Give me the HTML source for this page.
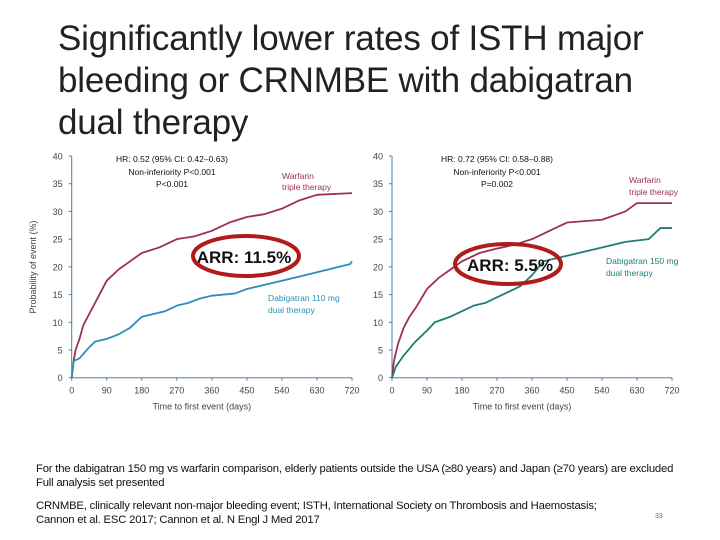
<!DOCTYPE html>
<html><head><meta charset="utf-8"><style>
body{margin:0;width:720px;height:540px;background:#fff;overflow:hidden;font-family:"Liberation Sans",sans-serif;position:relative}
.title{position:absolute;left:58px;top:18px;font-size:35px;line-height:42px;color:#222;letter-spacing:-0.2px}
.note{position:absolute;left:36px;font-size:11.3px;color:#111;line-height:14px;letter-spacing:-0.2px;white-space:nowrap}
</style></head><body>
<div class="title">Significantly lower rates of ISTH major<br>bleeding or CRNMBE with dabigatran<br>dual therapy</div>
<svg id="c" width="720" height="540" style="position:absolute;left:0;top:0"></svg>
<div class="note" style="top:462px">For the dabigatran 150 mg vs warfarin comparison, elderly patients outside the USA (≥80 years) and Japan (≥70 years) are excluded<br>Full analysis set presented</div>
<div class="note" style="top:499px">CRNMBE, clinically relevant non-major bleeding event; ISTH, International Society on Thrombosis and Haemostasis;<br>Cannon et al. ESC 2017; Cannon et al. N Engl J Med 2017</div>
<div class="note" style="top:510px;left:655px;font-size:7px;color:#666">33</div>
<script>
const xTicks=[0,90,180,270,360,450,540,630,720];
const yTicks=[0,5,10,15,20,25,30,35,40];
const leftWarfDays=[0,5,10,20,30,45,60,75,90,120,150,180,225,270,315,360,405,450,495,540,585,630,720];
const leftWarfVals=[0,3,5,7,9.5,11.5,13.5,15.5,17.5,19.5,21,22.5,23.5,25,25.5,26.5,28,29,29.5,30.5,32,33,33.3];
const leftDabiDays=[0,5,20,45,60,90,120,150,180,210,240,270,300,330,360,420,450,540,600,715,720];
const leftDabiVals=[0,3,3.5,5.5,6.5,7,7.8,9,11,11.5,12,13,13.5,14.3,14.8,15.2,16,17.5,18.5,20.5,21];
const rightWarfDays=[0,5,15,30,45,60,90,120,150,180,225,270,315,360,405,450,540,600,630,720];
const rightWarfVals=[0,3,6,9,11,12.5,16,18,19.5,21,22.5,23.3,24,25,26.5,28,28.5,30,31.5,31.5];
const rightDabiDays=[0,10,30,60,90,110,150,180,210,240,270,300,330,360,390,450,540,600,660,690,720];
const rightDabiVals=[0,2,4,6.5,8.5,10,11,12,13,13.5,14.5,15.5,16.5,18.5,21,22,23.5,24.5,25,27,27];
const svg=document.getElementById('c');const NS='http://www.w3.org/2000/svg';
function mk(t,a,txt){const e=document.createElementNS(NS,t);for(const k in a)e.setAttribute(k,a[k]);if(txt!==undefined)e.textContent=txt;svg.appendChild(e);return e;}
function panel(x0,x1,pre,series,texts){
 const y0=377.7,y1=156;
 const X=d=>x0+(x1-x0)*d/720,Y=v=>y0+(y1-y0)*v/40;
 let e=mk('line',{x1:x0,y1:y0,x2:x0,y2:y1,stroke:'#4a7fa8','stroke-width':1});
 
 e=mk('line',{x1:x0,y1:y0,x2:x1,y2:y0,stroke:'#4a7fa8','stroke-width':1});
 
 yTicks.forEach(v=>{mk('line',{x1:x0-3,x2:x0,y1:Y(v),y2:Y(v),stroke:'#4a7fa8'});
  e=mk('text',{x:x0-9,y:Y(v)+3.5,'text-anchor':'end','font-size':9,fill:'#444'},String(v));
  });
 xTicks.forEach(d=>{mk('line',{x1:X(d),x2:X(d),y1:y0,y2:y0+3,stroke:'#4a7fa8'});
  e=mk('text',{x:X(d),y:y0+16,'text-anchor':'middle','font-size':9,fill:'#444'},String(d));
  });
 e=mk('text',{x:(x0+x1)/2-10,y:y0+32,'text-anchor':'middle','font-size':9,fill:'#444'},'Time to first event (days)');
 
 series.forEach(s=>{let p='M'+X(s.d[0])+','+Y(s.v[0]);
  for(let i=1;i<s.d.length;i++){p+=' L'+X(s.d[i])+','+Y(s.v[i]);}
  e=mk('path',{d:p,fill:'none',stroke:s.c,'stroke-width':1.8,'stroke-linejoin':'round'});
  });
 texts.forEach(t=>{e=mk('text',{x:t.x,y:t.y,'text-anchor':t.a||'start','font-size':t.s||8.5,fill:t.c||'#111','font-weight':t.w||'normal'},t.t);
  });
}
panel(71.7,352,'left',[
 {d:leftWarfDays,v:leftWarfVals,c:'#9e2f55',n:'left-warfarin-line'},
 {d:leftDabiDays,v:leftDabiVals,c:'#2b8fb8',n:'left-dabigatran-line'}],[
 {x:172,y:162,a:'middle',t:'HR: 0.52 (95% CI: 0.42–0.63)',n:'left-hr-text'},
 {x:172,y:175,a:'middle',t:'Non-inferiority P<0.001',n:'left-noninf-text'},
 {x:172,y:187,a:'middle',t:'P<0.001',n:'left-p-text'},
 {x:282,y:179,t:'Warfarin',c:'#9e2f55',n:'left-warfarin-label'},
 {x:282,y:190,t:'triple therapy',c:'#9e2f55',n:'left-warfarin-label-2'},
 {x:268,y:301,t:'Dabigatran 110 mg',c:'#2b8fb8',n:'left-dabigatran-label'},
 {x:268,y:313,t:'dual therapy',c:'#2b8fb8',n:'left-dabigatran-label-2'},
 {x:244,y:263,a:'middle',t:'ARR: 11.5%',s:17,w:'bold',n:'left-arr-label'}]);
panel(392,672,'right',[
 {d:rightWarfDays,v:rightWarfVals,c:'#9e2f55',n:'right-warfarin-line'},
 {d:rightDabiDays,v:rightDabiVals,c:'#1f7d78',n:'right-dabigatran-line'}],[
 {x:497,y:162,a:'middle',t:'HR: 0.72 (95% CI: 0.58–0.88)',n:'right-hr-text'},
 {x:497,y:175,a:'middle',t:'Non-inferiority P<0.001',n:'right-noninf-text'},
 {x:497,y:187,a:'middle',t:'P=0.002',n:'right-p-text'},
 {x:629,y:183,t:'Warfarin',c:'#9e2f55',n:'right-warfarin-label'},
 {x:629,y:195,t:'triple therapy',c:'#9e2f55',n:'right-warfarin-label-2'},
 {x:606,y:264,t:'Dabigatran 150 mg',c:'#1f7d78',n:'right-dabigatran-label'},
 {x:606,y:276,t:'dual therapy',c:'#1f7d78',n:'right-dabigatran-label-2'},
 {x:510,y:271,a:'middle',t:'ARR: 5.5%',s:17,w:'bold',n:'right-arr-label'}]);
let e=mk('ellipse',{cx:246,cy:256,rx:53,ry:20,fill:'none',stroke:'#b01c1c','stroke-width':4});

e=mk('ellipse',{cx:508,cy:264,rx:53,ry:20,fill:'none',stroke:'#b01c1c','stroke-width':4});

e=mk('text',{x:36,y:267,'text-anchor':'middle','font-size':9,fill:'#444',transform:'rotate(-90 36 267)'},'Probability of event (%)');

</script>
</body></html>
